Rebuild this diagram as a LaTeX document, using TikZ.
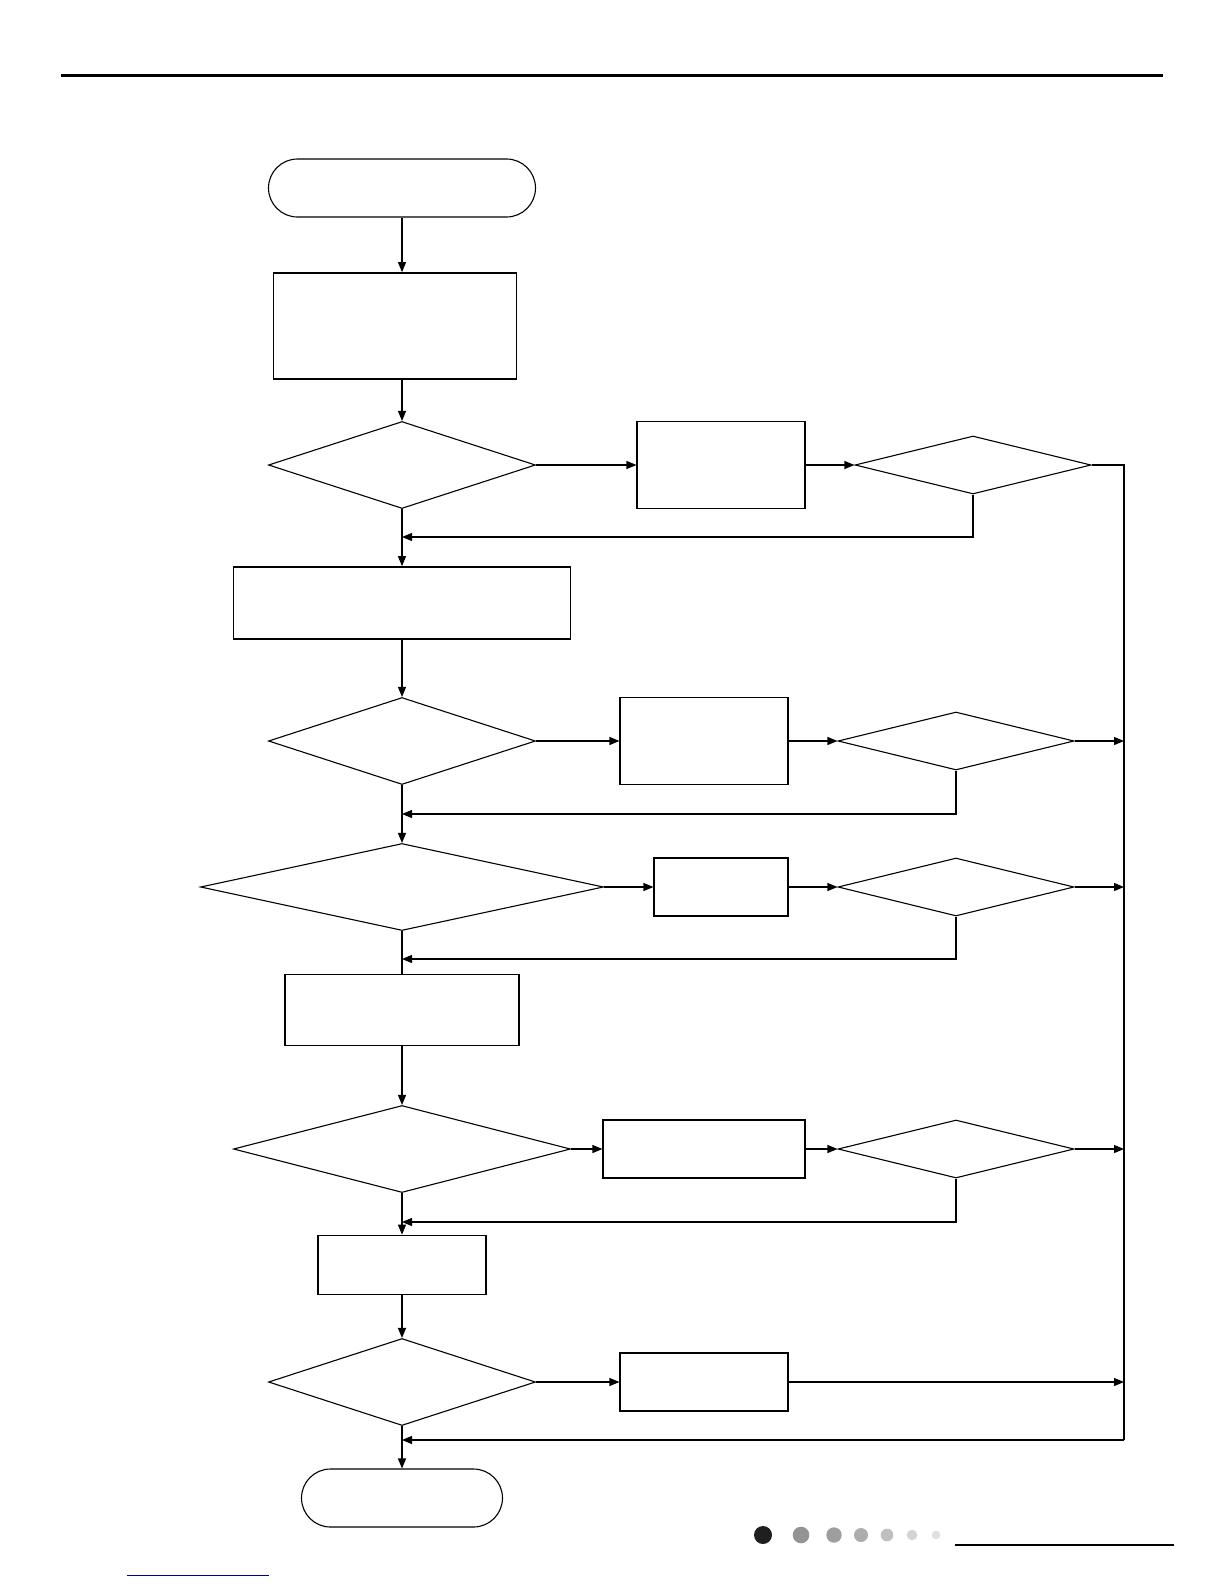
\documentclass[tikz,border=0pt]{standalone}
\usetikzlibrary{arrows.meta,shapes.geometric}
\begin{document}
\begin{tikzpicture}[x=1pt,y=-1pt,line width=1.1pt,
  >={Triangle[length=10pt,width=8pt]},
  term/.style={draw,rounded corners=29pt,inner sep=0pt},
  procbox/.style={draw,inner sep=0pt},
  heavybox/.style={procbox,line width=1.7pt},
  decide/.style={draw,diamond,inner sep=0pt}]
  \useasboundingbox (0,0) rectangle (1224,1584);
  \draw[line width=3pt] (61,76) -- (1163,76);
  \node[term,minimum width=267pt,minimum height=58pt] (start) at (402,188) {};
  \node[heavybox,minimum width=243pt,minimum height=106pt] (init) at (395,326) {};
  \node[decide,minimum width=267pt,minimum height=87pt] (d1) at (402,465) {};
  \node[procbox,minimum width=168pt,minimum height=87pt] (r1) at (721,465) {};
  \node[decide,minimum width=236pt,minimum height=58pt] (dr1) at (973,465) {};
  \node[heavybox,minimum width=337pt,minimum height=72pt] (box2) at (402,603) {};
  \node[decide,minimum width=267pt,minimum height=87pt] (d2) at (402,741) {};
  \node[procbox,minimum width=168pt,minimum height=87pt] (r2) at (704,741) {};
  \node[decide,minimum width=236pt,minimum height=58pt] (dr2) at (956,741) {};
  \node[decide,minimum width=403pt,minimum height=87pt] (d3) at (402,887) {};
  \node[procbox,minimum width=134pt,minimum height=58pt] (r3) at (721,887) {};
  \node[decide,minimum width=236pt,minimum height=58pt] (dr3) at (956,887) {};
  \node[procbox,minimum width=234pt,minimum height=71pt] (box4) at (402,1010) {};
  \node[decide,minimum width=337pt,minimum height=87pt] (d4) at (402,1149) {};
  \node[procbox,minimum width=202pt,minimum height=58pt] (r4) at (704,1149) {};
  \node[decide,minimum width=236pt,minimum height=58pt] (dr4) at (956,1149) {};
  \node[heavybox,minimum width=168pt,minimum height=59pt] (box5) at (402,1265) {};
  \node[decide,minimum width=267pt,minimum height=87pt] (d5) at (402,1382) {};
  \node[procbox,minimum width=168pt,minimum height=58pt] (r5) at (704,1382) {};
  \node[term,minimum width=201pt,minimum height=58pt] (end) at (402,1498) {};
  \coordinate (bustop) at (1124,465);
  \coordinate (busbot) at (1124,1440);
  \coordinate (join) at (402,1440);
  \coordinate (back1) at (402,537);
  \coordinate (back2) at (402,814);
  \coordinate (back3) at (402,959);
  \coordinate (back4) at (402,1222);
  \draw[->] (start) -- (start.south |- init.north);
  \draw[->] (init.south -| d1) -- (d1);
  \draw[->] (d1) -- (box2);
  \draw[->] (box2) -- (d2);
  \draw[->] (d2) -- (d3);
  \draw (d3) -- (box4);
  \draw[->] (box4) -- (d4);
  \draw[->] (d4) -- (box5);
  \draw[->] (box5) -- (d5);
  \draw[->] (d5) -- (end);
  \foreach \a/\b/\c in {d1/r1/dr1, d2/r2/dr2, d3/r3/dr3, d4/r4/dr4}{
    \draw[->] (\a) -- (\b);
    \draw[->] (\b) -- (\c);
  }
  \draw[->] (d5) -- (r5);
  \draw (dr1.east) -- (bustop) -- (busbot);
  \draw[->] (busbot) -- (join);
  \foreach \n in {dr2,dr3,dr4,r5}
    \draw[->] (\n) -- (\n -| bustop);
  \draw[->] (dr1.south) |- (back1);
  \draw[->] (dr2.south) |- (back2);
  \draw[->] (dr3.south) |- (back3);
  \draw[->] (dr4.south) |- (back4);
  \foreach \x/\r/\c in {763/9/black!88, 801/8.3/black!42, 834/7.7/black!38, 861/7/black!32, 887/6.3/black!25, 912/5.3/black!17, 936/4.3/black!12}
    \fill[\c] (\x,1535) circle (\r pt);
  \draw[line width=2pt] (955,1545) -- (1174,1545);
  \draw[line width=1pt,blue!60!black] (127,1575) -- (269,1575);
\end{tikzpicture}
\end{document}
